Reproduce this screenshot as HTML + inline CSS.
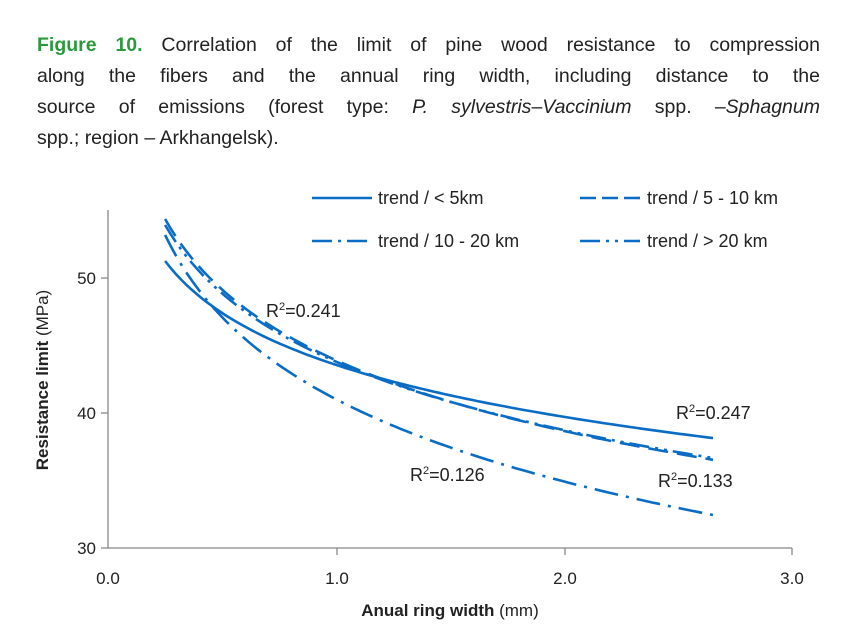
<!DOCTYPE html><html><head><style>
body{margin:0;background:#fff;width:860px;height:633px;overflow:hidden;font-family:"Liberation Sans",sans-serif}
.t{position:absolute;left:37px;width:783px;font-size:19.5px;color:#222;text-align:justify;text-align-last:justify;line-height:31px;white-space:nowrap}
</style></head><body>
<div class="t" style="top:30px"><b style="color:#2a9a3c">Figure 10.</b> Correlation of the limit of pine wood resistance to compression</div>
<div class="t" style="top:61px">along the fibers and the annual ring width, including distance to the</div>
<div class="t" style="top:92px">source of emissions (forest type: <i>P. sylvestris</i>–<i>Vaccinium</i> spp. –<i>Sphagnum</i></div>
<div class="t" style="top:123px;text-align-last:left">spp.; region – Arkhangelsk).</div>
<svg width="860" height="633" style="position:absolute;left:0;top:0" font-family="Liberation Sans, sans-serif" fill="#222">
<g stroke="#888" stroke-width="1.3">
<line x1="108" y1="210" x2="108" y2="548"/><line x1="108" y1="548" x2="792" y2="548"/>
<line x1="101" y1="278" x2="108" y2="278"/><line x1="101" y1="413" x2="108" y2="413"/><line x1="101" y1="548" x2="108" y2="548"/>
<line x1="337" y1="548" x2="337" y2="555"/><line x1="565" y1="548" x2="565" y2="555"/><line x1="792" y1="548" x2="792" y2="555"/>
</g>
<g font-size="17" text-anchor="end"><text x="96" y="284">50</text><text x="96" y="419">40</text><text x="96" y="554">30</text></g>
<g font-size="17" text-anchor="middle"><text x="108" y="584">0.0</text><text x="337" y="584">1.0</text><text x="565" y="584">2.0</text><text x="792" y="584">3.0</text></g>
<text x="450" y="616" font-size="17" text-anchor="middle"><tspan font-weight="bold">Anual ring width</tspan> (mm)</text>
<text transform="translate(48,380) rotate(-90)" font-size="17" text-anchor="middle"><tspan font-weight="bold">Resistance limit</tspan> (MPa)</text>
<g id="curves" fill="none" stroke="#0a6cc4" stroke-width="2.6"></g>
<g stroke="#0a6cc4" stroke-width="2.6">
<line x1="312" y1="198" x2="372" y2="198"/>
<line x1="580" y1="198" x2="640" y2="198" stroke-dasharray="16,6"/>
<line x1="312" y1="241" x2="372" y2="241" stroke-dasharray="20,6,3,6"/>
<line x1="580" y1="241" x2="640" y2="241" stroke-dasharray="20,6,3,6,3,6"/>
</g>
<g font-size="18"><text x="378" y="204">trend / &lt; 5km</text><text x="647" y="204">trend / 5 - 10 km</text>
<text x="378" y="247">trend / 10 - 20 km</text><text x="647" y="247">trend / &gt; 20 km</text>
<text x="266" y="317">R<tspan font-size="11" dy="-7">2</tspan><tspan dy="7">=0.241</tspan></text>
<text x="676" y="419">R<tspan font-size="11" dy="-7">2</tspan><tspan dy="7">=0.247</tspan></text>
<text x="410" y="481">R<tspan font-size="11" dy="-7">2</tspan><tspan dy="7">=0.126</tspan></text>
<text x="658" y="487">R<tspan font-size="11" dy="-7">2</tspan><tspan dy="7">=0.133</tspan></text></g>
</svg>
<script>
var g=document.getElementById('curves');
[[261,75,''],[219,102,'20,9'],[225,98.7,'20,6,3,6,3,6'],[235,118.6,'24,8,3,8']].forEach(function(c){
var d='';for(var i=0;i<=100;i++){var x=0.25+2.4*i/100;var px=108+228.3*x;var py=c[0]+c[1]*Math.log(x/0.25);d+=(i?'L':'M')+px.toFixed(1)+','+py.toFixed(1);}
var p=document.createElementNS('http://www.w3.org/2000/svg','path');p.setAttribute('d',d);if(c[2])p.setAttribute('stroke-dasharray',c[2]);g.appendChild(p);});
</script>
</body></html>
